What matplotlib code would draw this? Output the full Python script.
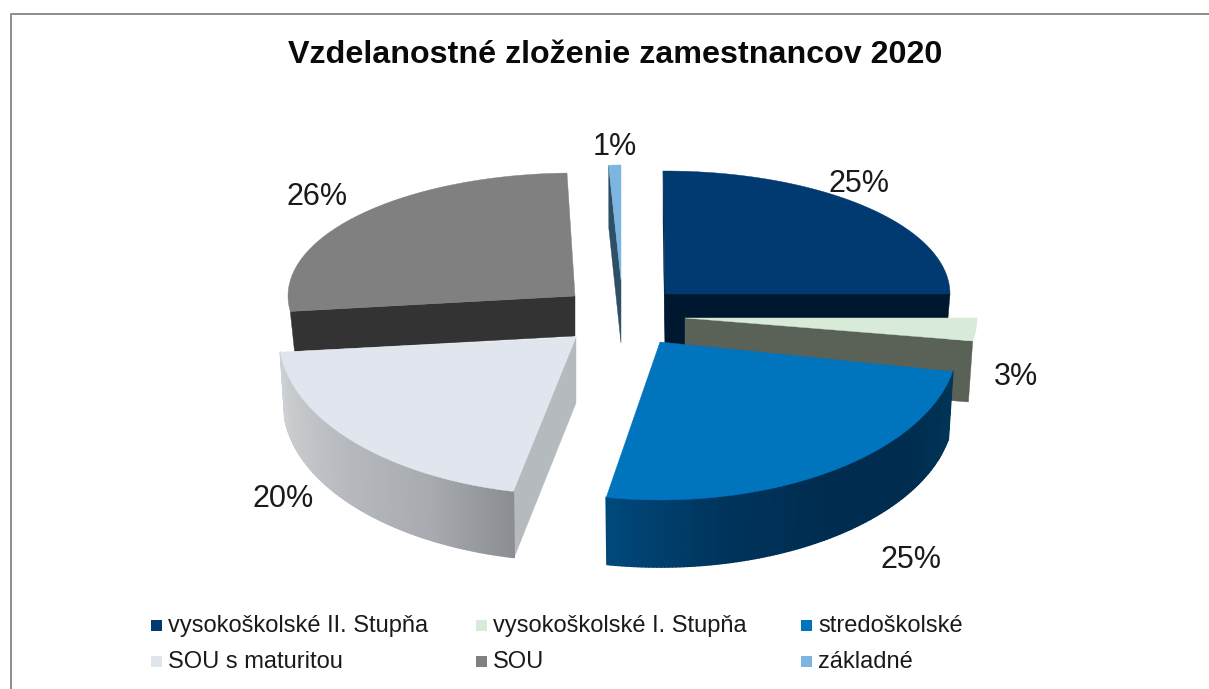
import numpy as np
import matplotlib
matplotlib.use('Agg')
from matplotlib import pyplot as plt
from matplotlib.collections import PolyCollection
from matplotlib.colors import to_rgb
from matplotlib.patches import Rectangle

plt.rcParams['font.family'] = ['Liberation Sans', 'DejaVu Sans']

title = 'Vzdelanostné zloženie zamestnancov 2020'
categories = ['vysokoškolské II. Stupňa', 'vysokoškolské I. Stupňa', 'stredoškolské',
              'SOU s maturitou', 'SOU', 'základné']
values = [25, 3, 25, 20, 26, 1]
colors = ['#003a70', '#d8ead8', '#0074bd', '#e1e6ee', '#808080', '#7cb6e0']
cut_colors = ['#00182f', '#5a6156', None, '#b4babe', '#333333', '#2f4f66']

# per slice look of the fake 3D: apex x, apex y, rx, ry back, ry front, depth, nudge of start and end angle
shape = [
    (665, 294, 285, 123, 123, 51, -0.4, 0),
    (685, 318, 292, 135, 135, 61, 0, -1),
    (660, 342, 298, 158, 158, 67, 0, -0.4),
    (576, 337, 297, 158, 158, 66, 1.4, 1.7),
    (575, 296, 287, 123, 123, 40, 0, 2),
    (621, 280, 197, 115, 115, 63, 0, 0),
]
draw_order = [5, 0, 4, 1, 3, 2]

# which ends of a slice show a cut face: 0 start, 1 end
cut_ends = {0: [0, 1], 1: [1], 3: [0], 4: [0], 5: [0]}

# wall shading along the rim, from start angle to end angle
wall_shades = {
    2: ['#003658', '#002c4f', '#002c4f', '#00345c', '#00487c'],
    3: ['#8b8e93', '#a8acb0', '#b4b8bc', '#c2c6c9', '#cdd1d4'],
}

label_pos = [(859, 184), (1016, 377), (911, 560), (283, 499), (317, 197), (615, 147)]
legend_x = [151, 476, 801]
legend_y = [625, 661]


def rim(shp, ang, shrink=1.0, drop=0):
    cx, cy, rx, ryb, ryf = shp[:5]
    a = np.radians(ang)
    ry = np.where(np.cos(a) > 0, ryb, ryf)
    return cx + shrink * rx * np.sin(a), cy - ry * np.cos(a) + drop


fig = plt.figure(figsize=(12.09, 6.89), dpi=100)
ax = fig.add_axes([0, 0, 1, 1])
ax.set_xlim(0, 1209)
ax.set_ylim(689, 0)
ax.axis('off')

# frame of the pasted chart
ax.plot([1209, 11, 11], [14, 14, 689], color='#8c8c8c', lw=1.4)

ends = np.cumsum(values) / np.sum(values) * 360
starts = ends - np.array(values) / np.sum(values) * 360

for i in draw_order:
    shp = shape[i]
    cx, cy, depth = shp[0], shp[1], shp[5]
    a0 = starts[i] + shp[6]
    a1 = ends[i] + shp[7]
    angs = np.linspace(a0, a1, 120)
    xt, yt = rim(shp, angs)
    xb, yb = rim(shp, angs, 0.985, depth)

    # cut faces that can be seen
    for which in cut_ends.get(i, []):
        ang = a1 if which else a0
        xr, yr = rim(shp, ang)
        xd, yd = rim(shp, ang, 0.985, depth)
        ax.fill([cx, xr, xd, cx], [cy, yr, yd, cy + depth], color=cut_colors[i], lw=0.3)

    # outer wall with its shading
    if i in wall_shades:
        rgb = np.array([to_rgb(c) for c in wall_shades[i]])
        t = np.linspace(0, 1, len(angs) - 1)
        stops = np.linspace(0, 1, len(rgb))
        face = np.column_stack([np.interp(t, stops, rgb[:, k]) for k in range(3)])
        quads = [[(xt[k], yt[k]), (xt[k + 1], yt[k + 1]), (xb[k + 1], yb[k + 1]), (xb[k], yb[k])]
                 for k in range(len(angs) - 1)]
        ax.add_collection(PolyCollection(quads, facecolors=face, edgecolors=face, linewidths=1.2))

    # top face
    ax.fill(np.r_[cx, xt], np.r_[cy, yt], color=colors[i], lw=0.3)

ax.text(615, 55, title, fontsize=23.2, fontweight='bold', ha='center', va='center', color='#0a0a0a')

for (x, y), v in zip(label_pos, values):
    ax.text(x, y, '%d%%' % v, fontsize=22, ha='center', va='center', color='#1a1a1a')

for k, name in enumerate(categories):
    x = legend_x[k % 3]
    y = legend_y[k // 3]
    ax.add_patch(Rectangle((x, y - 5.5), 11, 11, color=colors[k], lw=0))
    ax.text(x + 17, y + 1, name, fontsize=17, ha='left', va='center', color='#1a1a1a')

plt.savefig('out.png', dpi=100)
